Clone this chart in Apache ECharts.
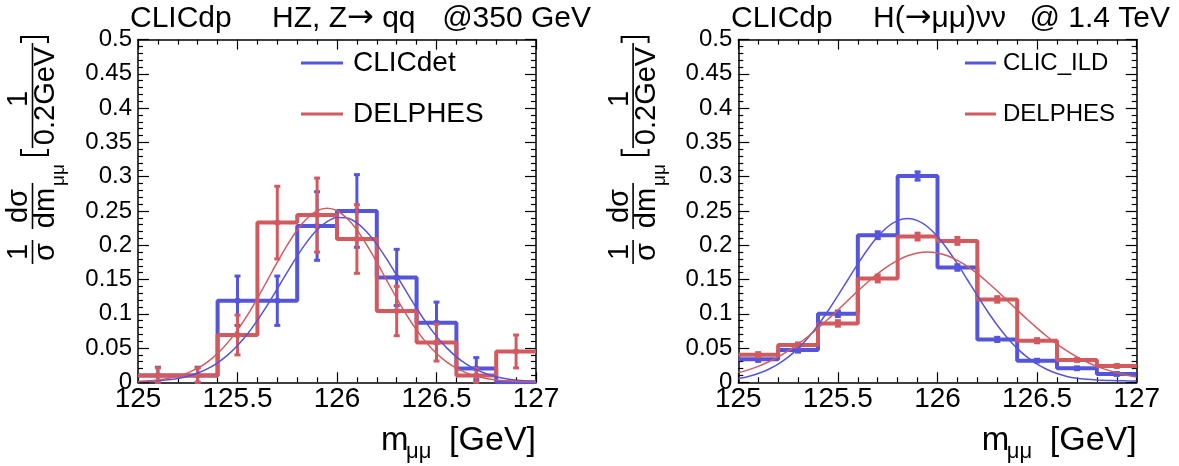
<!DOCTYPE html>
<html><head><meta charset="utf-8">
<script src="https://cdn.jsdelivr.net/npm/echarts@6/dist/echarts.min.js"></script>
<style>html,body{margin:0;padding:0;background:#fff}#c{width:1179px;height:466px}</style>
</head><body><div id="c"></div>
<script>
// ---------- data ----------
const binEdges = [125.0, 125.2, 125.4, 125.6, 125.8, 126.0, 126.2, 126.4, 126.6, 126.8, 127.0];
const binCenters = [125.1, 125.3, 125.5, 125.7, 125.9, 126.1, 126.3, 126.5, 126.7, 126.9];
const xTickValues = [125, 125.5, 126, 126.5, 127];
const xTickLabels = ['125', '125.5', '126', '126.5', '127'];
const yTickValues = [0, 0.05, 0.1, 0.15, 0.2, 0.25, 0.3, 0.35, 0.4, 0.45, 0.5];
const yTickLabels = ['0', '0.05', '0.1', '0.15', '0.2', '0.25', '0.3', '0.35', '0.4', '0.45', '0.5'];

// left panel: HZ, Z->qq @350 GeV
const leftBlueVals = [0.010, 0.010, 0.119, 0.119, 0.228, 0.250, 0.153, 0.087, 0.020, 0.000];
const leftBlueErrs = [0.012, 0.012, 0.036, 0.036, 0.050, 0.053, 0.041, 0.030, 0.016, 0.000];
const leftRedVals  = [0.010, 0.010, 0.069, 0.233, 0.244, 0.209, 0.104, 0.058, 0.010, 0.045];
const leftRedErrs  = [0.011, 0.011, 0.029, 0.053, 0.054, 0.050, 0.036, 0.027, 0.010, 0.024];

// right panel: H(->mumu)nunu @ 1.4 TeV
const rightBlueVals = [0.0335, 0.0470, 0.1000, 0.2146, 0.3010, 0.1675, 0.0626, 0.0316, 0.0204, 0.0121];
const rightBlueErrs = [0.003, 0.003, 0.004, 0.005, 0.006, 0.004, 0.003, 0.002, 0.002, 0.002];
const rightRedVals  = [0.0403, 0.0544, 0.0859, 0.1515, 0.2126, 0.2063, 0.1209, 0.0607, 0.0325, 0.0238];
const rightRedErrs  = [0.003, 0.003, 0.004, 0.005, 0.005, 0.005, 0.004, 0.003, 0.002, 0.002];

// fitted curves, every 0.05 GeV
const fitX = [125.00, 125.05, 125.10, 125.15, 125.20, 125.25, 125.30, 125.35, 125.40, 125.45,
              125.50, 125.55, 125.60, 125.65, 125.70, 125.75, 125.80, 125.85, 125.90, 125.95,
              126.00, 126.05, 126.10, 126.15, 126.20, 126.25, 126.30, 126.35, 126.40, 126.45,
              126.50, 126.55, 126.60, 126.65, 126.70, 126.75, 126.80, 126.85, 126.90, 126.95, 127.00];
const leftBlueFit = [0.0007, 0.0013, 0.0022, 0.0036, 0.0057, 0.0089, 0.0135, 0.0199, 0.0285, 0.0396,
                     0.0537, 0.0706, 0.0904, 0.1126, 0.1365, 0.1607, 0.1842, 0.2053, 0.2225, 0.2345,
                     0.2405, 0.2398, 0.2326, 0.2194, 0.2013, 0.1796, 0.1559, 0.1316, 0.1080, 0.0863,
                     0.0670, 0.0506, 0.0372, 0.0266, 0.0185, 0.0125, 0.0082, 0.0053, 0.0033, 0.0020, 0.0012];
const leftRedFit  = [0.0012, 0.0021, 0.0035, 0.0057, 0.0090, 0.0138, 0.0206, 0.0299, 0.0420, 0.0575,
                     0.0762, 0.0981, 0.1226, 0.1487, 0.1752, 0.2002, 0.2222, 0.2393, 0.2503, 0.2540,
                     0.2503, 0.2393, 0.2222, 0.2002, 0.1752, 0.1487, 0.1226, 0.0981, 0.0762, 0.0575,
                     0.0420, 0.0299, 0.0206, 0.0138, 0.0090, 0.0057, 0.0035, 0.0021, 0.0012, 0.0007, 0.0004];
const rightBlueFit = [0.0056, 0.0086, 0.0128, 0.0187, 0.0265, 0.0367, 0.0495, 0.0651, 0.0833, 0.1040,
                      0.1264, 0.1496, 0.1727, 0.1941, 0.2126, 0.2269, 0.2359, 0.2390, 0.2359, 0.2269,
                      0.2126, 0.1941, 0.1727, 0.1496, 0.1264, 0.1040, 0.0833, 0.0651, 0.0495, 0.0367,
                      0.0265, 0.0187, 0.0128, 0.0086, 0.0060, 0.0045, 0.0035, 0.0028, 0.0024, 0.0021, 0.0019];
const rightRedFit  = [0.0138, 0.0181, 0.0233, 0.0296, 0.0371, 0.0458, 0.0557, 0.0668, 0.0790, 0.0919,
                      0.1055, 0.1194, 0.1331, 0.1463, 0.1585, 0.1692, 0.1780, 0.1846, 0.1886, 0.1900,
                      0.1886, 0.1846, 0.1780, 0.1692, 0.1585, 0.1463, 0.1331, 0.1194, 0.1055, 0.0919,
                      0.0790, 0.0668, 0.0557, 0.0458, 0.0371, 0.0296, 0.0233, 0.0181, 0.0138, 0.0104, 0.0077];

// ---------- style ----------
const BLUE = '#5454dc';
const RED = '#d25a5f';
const FONT = '"Liberation Sans", Arial, Helvetica, sans-serif';

function lookup(vals, labels) {
  return v => { const i = vals.findIndex(t => Math.abs(t - v) < 1e-6); return i >= 0 ? labels[i] : ''; };
}
function histData(vals) {
  const d = vals.map((v, i) => [binEdges[i], v]);
  d.push([binEdges[binEdges.length - 1], vals[vals.length - 1]]);
  return d;
}
function errData(vals, errs) { return binCenters.map((c, i) => [c, vals[i], errs[i]]); }
function fitData(ys) { return fitX.map((x, i) => [x, ys[i]]); }

function errRenderer(color) {
  return function (params, api) {
    const x = api.value(0), v = api.value(1), e = api.value(2);
    if (!(e > 0)) return null;
    const lo = Math.max(0, v - e), hi = v + e;
    const pLo = api.coord([x, lo]), pHi = api.coord([x, hi]), p = api.coord([x, v]);
    const st = { stroke: color, lineWidth: 3 };
    return { type: 'group', children: [
      { type: 'line', shape: { x1: pLo[0], y1: pLo[1], x2: pHi[0], y2: pHi[1] }, style: st },
      { type: 'line', shape: { x1: pLo[0] - 3, y1: pLo[1], x2: pLo[0] + 3, y2: pLo[1] }, style: st },
      { type: 'line', shape: { x1: pHi[0] - 3, y1: pHi[1], x2: pHi[0] + 3, y2: pHi[1] }, style: st },
      { type: 'rect', shape: { x: p[0] - 2.5, y: p[1] - 2.5, width: 5, height: 5 }, style: { fill: color } }
    ]};
  };
}

function xAxisCfg(gridIndex, pos) {
  return {
    type: 'value', gridIndex, position: pos, min: 125, max: 127, interval: 0.5,
    axisLine: { show: true, onZero: false, lineStyle: { color: '#000', width: 1.5 } },
    axisTick: { show: true, inside: true, length: 10, lineStyle: { color: '#000', width: 1.2 } },
    minorTick: { show: true, splitNumber: 5, length: 5, lineStyle: { color: '#000', width: 1.2 } },
    splitLine: { show: false }, minorSplitLine: { show: false },
    axisLabel: pos === 'bottom'
      ? { show: true, fontSize: 28, fontFamily: FONT, color: '#000', margin: 3, formatter: lookup(xTickValues, xTickLabels) }
      : { show: false }
  };
}
function yAxisCfg(gridIndex, pos) {
  return {
    type: 'value', gridIndex, position: pos, min: 0, max: 0.5, interval: 0.05,
    axisLine: { show: true, onZero: false, lineStyle: { color: '#000', width: 1.5 } },
    axisTick: { show: true, inside: true, length: 11, lineStyle: { color: '#000', width: 1.2 } },
    minorTick: { show: true, splitNumber: 5, length: 5, lineStyle: { color: '#000', width: 1.2 } },
    splitLine: { show: false }, minorSplitLine: { show: false },
    axisLabel: pos === 'left'
      ? { show: true, fontSize: 24, fontFamily: FONT, color: '#000', margin: 6, formatter: lookup(yTickValues, yTickLabels) }
      : { show: false }
  };
}

function panelSeries(xi, yi, blueName, bVals, bErrs, rVals, rErrs, bFit, rFit) {
  return [
    { name: blueName, type: 'line', xAxisIndex: xi, yAxisIndex: yi, step: 'end', data: histData(bVals),
      showSymbol: false, symbol: 'none', lineStyle: { color: BLUE, width: 4 }, itemStyle: { color: BLUE }, z: 2 },
    { name: blueName, type: 'custom', xAxisIndex: xi, yAxisIndex: yi, data: errData(bVals, bErrs),
      renderItem: errRenderer(BLUE), itemStyle: { color: BLUE }, z: 2 },
    { name: 'DELPHES', type: 'line', xAxisIndex: xi, yAxisIndex: yi, step: 'end', data: histData(rVals),
      showSymbol: false, symbol: 'none', lineStyle: { color: RED, width: 4 }, itemStyle: { color: RED }, z: 3 },
    { name: 'DELPHES', type: 'custom', xAxisIndex: xi, yAxisIndex: yi, data: errData(rVals, rErrs),
      renderItem: errRenderer(RED), itemStyle: { color: RED }, z: 3 },
    { name: blueName + ' fit', type: 'line', xAxisIndex: xi, yAxisIndex: yi, smooth: 0.3, data: fitData(bFit),
      showSymbol: false, symbol: 'none', lineStyle: { color: BLUE, width: 1.5 }, itemStyle: { color: BLUE }, z: 4 },
    { name: 'DELPHES fit', type: 'line', xAxisIndex: xi, yAxisIndex: yi, smooth: 0.3, data: fitData(rFit),
      showSymbol: false, symbol: 'none', lineStyle: { color: RED, width: 1.5 }, itemStyle: { color: RED }, z: 4 }
  ];
}

function txt(x, y, text, size, opts) {
  opts = opts || {};
  const align = opts.align || 'left';
  const style = { text, font: size + 'px ' + FONT, fill: '#000',
                  textAlign: align, align: align, textVerticalAlign: 'middle', verticalAlign: 'middle' };
  if (opts.rich) style.rich = opts.rich;
  return { type: 'text', x, y, rotation: opts.rot || 0, z: 100, style };
}
function ln(x1, y1, x2, y2, w) {
  return { type: 'line', z: 100, shape: { x1, y1, x2, y2 }, style: { stroke: '#000', lineWidth: w || 1.6 } };
}
function yTitle(dx) {
  const R = Math.PI / 2, F = 29;
  const NUM = 19, DEN = 46, LINE = 32.5;
  return [
    txt(NUM + dx, 252, '1', F, { align: 'center', rot: R }),
    ln(LINE + dx, 240, LINE + dx, 264),
    txt(DEN + dx, 252, 'σ', F, { align: 'center', rot: R }),
    txt(NUM + dx, 206, 'dσ', F, { align: 'center', rot: R }),
    ln(LINE + dx, 183, LINE + dx, 229),
    txt(DEN + dx, 208, 'dm', F, { align: 'center', rot: R }),
    txt(59 + dx, 175, 'μμ', 19, { align: 'center', rot: R }),
    { type: 'polyline', z: 100, shape: { points: [[21 + dx, 149], [21 + dx, 155], [48 + dx, 155], [48 + dx, 149]] },
      style: { stroke: '#000', lineWidth: 2, fill: null } },
    txt(NUM + dx, 99, '1', F, { align: 'center', rot: R }),
    ln(LINE + dx, 43, LINE + dx, 148),
    txt(DEN + dx, 96, '0.2GeV', F, { align: 'center', rot: R }),
    { type: 'polyline', z: 100, shape: { points: [[21 + dx, 43], [21 + dx, 37], [48 + dx, 37], [48 + dx, 43]] },
      style: { stroke: '#000', lineWidth: 2, fill: null } }
  ];
}
function xTitle(rightEdge) {
  return [
    txt(rightEdge - 155, 441, 'm', 33),
    txt(rightEdge - 130, 452, 'μμ', 22),
    txt(rightEdge, 441, '[GeV]', 34, { align: 'right' })
  ];
}
const arrowRich = { ar: { fontFamily: '"DejaVu Sans"', fontSize: 32, color: '#000' } };

const chart = echarts.init(document.getElementById('c'), null, { renderer: 'canvas' });
chart.setOption({
  animation: false,
  backgroundColor: '#fff',
  grid: [
    { left: 138, top: 39.6, width: 398, height: 342.7 },
    { left: 738.3, top: 39.6, width: 398.4, height: 342.7 }
  ],
  xAxis: [xAxisCfg(0, 'bottom'), xAxisCfg(0, 'top'), xAxisCfg(1, 'bottom'), xAxisCfg(1, 'top')],
  yAxis: [yAxisCfg(0, 'left'), yAxisCfg(0, 'right'), yAxisCfg(1, 'left'), yAxisCfg(1, 'right')],
  legend: [
    { data: ['CLICdet', 'DELPHES'], left: 296, top: 44, orient: 'vertical', icon: 'rect',
      itemWidth: 42, itemHeight: 3, itemGap: 23, selectedMode: false,
      textStyle: { fontSize: 28, fontFamily: FONT, color: '#000', lineHeight: 28, padding: [0, 0, 0, 5] } },
    { data: ['CLIC_ILD', 'DELPHES'], left: 960, top: 46, orient: 'vertical', icon: 'rect',
      itemWidth: 31, itemHeight: 3, itemGap: 27, selectedMode: false,
      textStyle: { fontSize: 24, fontFamily: FONT, color: '#000', lineHeight: 24, padding: [0, 0, 0, 2] } }
  ],
  series: [].concat(
    panelSeries(0, 0, 'CLICdet', leftBlueVals, leftBlueErrs, leftRedVals, leftRedErrs, leftBlueFit, leftRedFit),
    panelSeries(2, 2, 'CLIC_ILD', rightBlueVals, rightBlueErrs, rightRedVals, rightRedErrs, rightBlueFit, rightRedFit)
  ),
  graphic: [].concat(
    [
      txt(130, 18.5, 'CLICdp', 30),
      txt(272, 18.5, 'HZ, Z{ar|→} qq', 30, { rich: arrowRich }),
      txt(591, 18.5, '@350 GeV', 30, { align: 'right' }),
      txt(731, 18.5, 'CLICdp', 30),
      txt(873, 18.5, 'H({ar|→}μμ)νν', 30, { rich: arrowRich }),
      txt(1170, 18.5, '@ 1.4 TeV', 30, { align: 'right' })
    ],
    yTitle(0), yTitle(600.6),
    xTitle(536), xTitle(1136.7)
  )
});
</script></body></html>
